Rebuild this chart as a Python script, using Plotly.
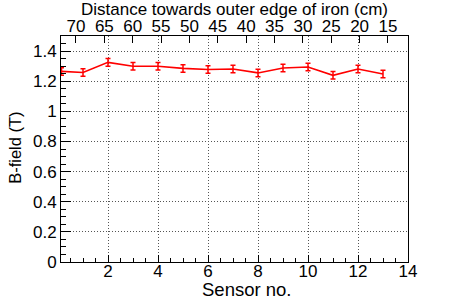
import plotly.graph_objects as go

# Data
sensor = [0.14, 1, 2, 3, 4, 5, 6, 7, 8, 9, 10, 11, 12, 13]
bfield = [1.265, 1.258, 1.325, 1.299, 1.299, 1.285, 1.278, 1.281, 1.255, 1.288, 1.294, 1.239, 1.281, 1.248]
berr = [0.025] * 14

x_ticks = [2, 4, 6, 8, 10, 12, 14]
y_ticks = [0, 0.2, 0.4, 0.6, 0.8, 1.0, 1.2, 1.4]
y_tick_labels = ["0", "0.2", "0.4", "0.6", "0.8", "1", "1.2", "1.4"]
dist_ticks = [70, 65, 60, 55, 50, 45, 40, 35, 30, 25, 20, 15]

FONT = "Liberation Sans, Arial, Helvetica, sans-serif"
GRID = dict(showgrid=True, gridcolor="#555", griddash="1px,2px", gridwidth=1, zeroline=False)

fig = go.Figure()
fig.add_trace(go.Scatter(
    x=sensor, y=bfield, mode="lines",
    line=dict(color="#ff0000", width=1.6),
    error_y=dict(type="data", array=berr, visible=True, color="#ff0000", thickness=1.5, width=2.5),
    showlegend=False, cliponaxis=False, hoverinfo="skip",
))
fig.add_trace(go.Scatter(x=[], y=[], xaxis="x2", yaxis="y", showlegend=False))

fig.update_layout(
    width=457, height=299,
    margin=dict(l=61, r=49, t=36, b=37, pad=0),
    paper_bgcolor="white", plot_bgcolor="white",
    font=dict(family=FONT, size=16, color="black"),
    showlegend=False,
    xaxis=dict(
        range=[0.12, 14], tickvals=x_ticks, ticks="inside", ticklen=7, tickwidth=1, tickcolor="black",
        showline=True, linecolor="black", linewidth=1, mirror=True, automargin=False,
        minor=dict(dtick=0.5, ticks="inside", ticklen=4, tickcolor="black", showgrid=False),
        tickfont=dict(size=17), ticklabelstandoff=-6,
        **GRID,
    ),
    xaxis2=dict(
        overlaying="x", side="top", anchor="y", automargin=False,
        range=[72.64, 11.47], tickvals=dist_ticks, ticks="inside", ticklen=7, tickcolor="black",
        showgrid=False, zeroline=False, showline=False,
        title=dict(text="Distance towards outer edge of iron (cm)", standoff=0, font=dict(size=17)),
        tickfont=dict(size=17),
    ),
    yaxis=dict(
        range=[0, 1.5], tickvals=y_ticks, ticktext=y_tick_labels, ticks="inside", ticklen=10, tickcolor="black",
        showline=True, linecolor="black", linewidth=1, mirror=True, automargin=False,
        minor=dict(dtick=0.05, ticks="inside", ticklen=5, tickcolor="black", showgrid=False),
        tickfont=dict(size=17),
        **GRID,
    ),
    annotations=[
        dict(text="Sensor no.", xref="paper", yref="paper", x=0.536, y=-0.12,
             xanchor="center", yanchor="middle", showarrow=False, font=dict(size=18.5)),
        dict(text="B-field (T)", xref="paper", yref="paper", x=-0.1326, y=0.505,
             xanchor="center", yanchor="middle", textangle=-90, showarrow=False, font=dict(size=16.5)),
    ],
)

fig.write_html("out.html", post_script="document.body.style.margin='0';",
               config={"displayModeBar": False, "staticPlot": True})
